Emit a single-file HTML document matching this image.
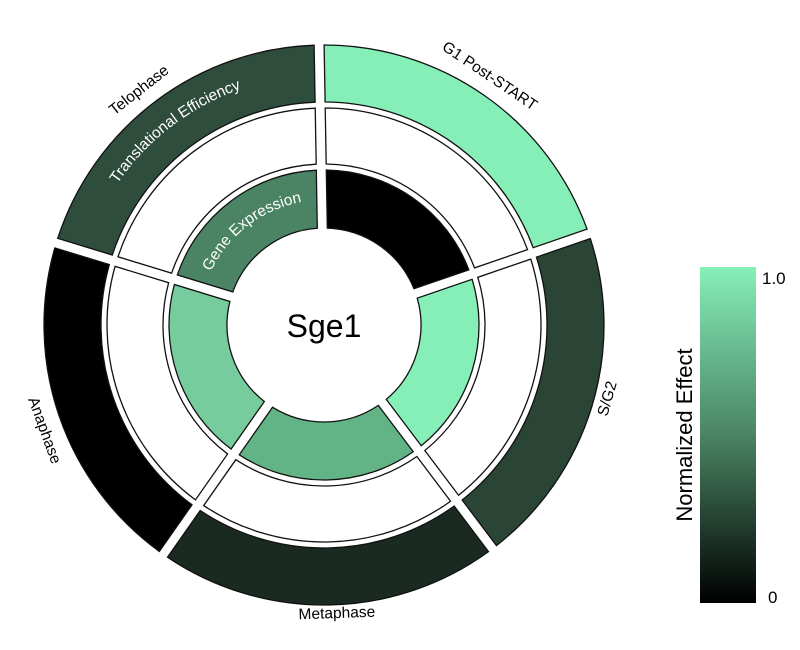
<!DOCTYPE html>
<html><head><meta charset="utf-8"><style>
html,body{margin:0;padding:0;background:#fff;width:800px;height:650px;overflow:hidden}
svg{display:block}
text{font-family:"Liberation Sans",sans-serif}
</style></head><body>
<svg id="s" width="800" height="650" viewBox="0 0 800 650" xmlns="http://www.w3.org/2000/svg">
<defs>
<linearGradient id="lg" x1="0" y1="0" x2="0" y2="1">
<stop offset="0" stop-color="#86efb7"/><stop offset="0.5" stop-color="#4a8464"/><stop offset="1" stop-color="#000"/>
</linearGradient>
<path id="p1" d="M 89.1 239.5 A 248 248 0 0 1 302.2 76" fill="none"/>
<path id="p2" d="M 206.5 282.2 A 125 125 0 0 1 313.1 200.5" fill="none"/>
</defs>
<g id="segs"></g>
<circle cx="324" cy="325" r="96" fill="#fff"/>
<text x="324" y="337" font-size="32" text-anchor="middle">Sge1</text>
<text font-size="15.5" fill="#fff"><textPath href="#p1" startOffset="50%" text-anchor="middle">Translational Efficiency</textPath></text>
<text font-size="15.5" fill="#fff"><textPath href="#p2" startOffset="50%" text-anchor="middle">Gene Expression</textPath></text>
<text font-size="15.5" text-anchor="middle" transform="translate(487,80) rotate(34)">G1 Post-START</text>
<text font-size="15.5" text-anchor="middle" transform="translate(612,400) rotate(-74)">S/G2</text>
<text font-size="15.5" text-anchor="middle" transform="translate(337,618) rotate(-2)">Metaphase</text>
<text font-size="15.5" text-anchor="middle" transform="translate(40,432) rotate(70)">Anaphase</text>
<text font-size="15.5" text-anchor="middle" transform="translate(142,94) rotate(-38)">Telophase</text>
<rect x="700" y="267" width="56" height="336" fill="url(#lg)"/>
<text x="762" y="284" font-size="17">1.0</text>
<text x="768" y="603" font-size="17">0</text>
<text font-size="22" text-anchor="middle" transform="translate(692,435) rotate(-90)">Normalized Effect</text>
</svg>
<script>
(function(){
var cx=324,cy=325,g=document.getElementById('segs');
var b=[-1,71,143,215,287,359];
var rings=[[97,155,['#000','#86efb7','#62b487','#77cc9d','#4a8464']],
[161,217,['#fff','#fff','#fff','#fff','#fff']],
[223,280,['#86efb7','#2a4535','#1a2a20','#000','#2f4d3c']]];
function pt(r,a){a=a*Math.PI/180;return (cx+r*Math.sin(a)).toFixed(2)+' '+(cy-r*Math.cos(a)).toFixed(2);}
rings.forEach(function(rg){
 for(var i=0;i<5;i++){
  var a0=b[i],a1=b[i+1],R=rg[1],r=rg[0];
  var dR=5/R*180/Math.PI,dr=5/r*180/Math.PI;
  var d='M '+pt(R,a0+dR)+' A '+R+' '+R+' 0 0 1 '+pt(R,a1-dR)+' L '+pt(r,a1-dr)+' A '+r+' '+r+' 0 0 0 '+pt(r,a0+dr)+' Z';
  var p=document.createElementNS('http://www.w3.org/2000/svg','path');
  p.setAttribute('d',d);p.setAttribute('fill',rg[2][i]);p.setAttribute('stroke','#111');p.setAttribute('stroke-width','1.3');
  g.appendChild(p);
 }
});
})();
</script>
</body></html>
